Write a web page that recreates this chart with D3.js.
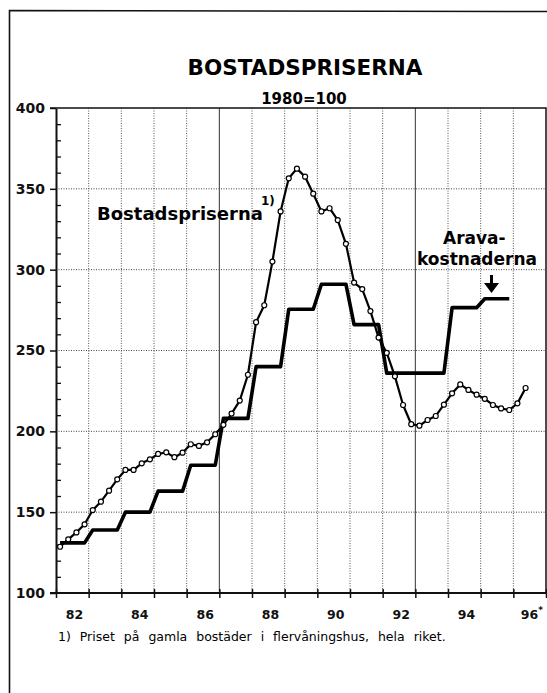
<!DOCTYPE html>
<html>
<head>
<meta charset="utf-8">
<script src="https://cdn.jsdelivr.net/npm/d3@7"></script>
<style>
body { margin: 0; background: #fff; }
svg { display: block; font-family: "DejaVu Sans", sans-serif; }
</style>
</head>
<body>
<svg width="547" height="693"></svg>
<script>
// Bostadspriserna 1), kvartalsvis fr.o.m. 1982:1 (1980=100)
var priceStart = 1982;
var priceValues = [128.6, 133.2, 137.5, 142.5, 151.3, 156.5, 163.3, 170.3,
                   176.1, 176.1, 180.2, 182.7, 186, 187, 184, 186.8,
                   192, 191, 193.2, 198.2, 204, 211, 219, 235,
                   267.5, 278, 305, 336, 356.5, 362.5, 357.5, 347,
                   336, 338, 330.7, 316, 292, 288, 274.4, 258,
                   248.5, 234, 216.3, 204.4, 203.5, 207, 209.5, 216.5,
                   223.5, 229, 225.6, 222.7, 220.1, 216.3, 214.2, 213.2,
                   217.3, 226.8];

// Aravakostnaderna, årsvärden
var aravaYears = [1982, 1983, 1984, 1985, 1986, 1987, 1988, 1989, 1990, 1991, 1992, 1993, 1994, 1995];
var aravaValues = [131, 139, 150, 163, 179, 208, 240, 275.5, 291, 266, 236, 236, 276.5, 282];

var gridYears = d3.range(1982, 1998);
var solidYears = [1987, 1993];
var labelYears = [1982, 1984, 1986, 1988, 1990, 1992, 1994, 1996];
var yMajor = [100, 150, 200, 250, 300, 350, 400];
var yMinor = d3.range(110, 400, 10).filter(function(d){ return d % 50 != 0; });

var svg = d3.select('svg');
var pLeft = 56, pRight = 546, pTop = 108, pBottom = 593;

var x = d3.scaleLinear().domain([1982, 1997]).range([pLeft, pRight]);
var y = d3.scaleLinear().domain([100, 400]).range([pBottom, pTop]);
// year labels sit a bit right of the middle of each year
var xLabel = d3.scaleLinear().domain([1982, 1997]).range([pLeft + 0.55 * 32.67, pRight + 0.55 * 32.67]);

// outer frame
svg.append('path')
   .attr('d', 'M9.5,693 L9.5,10.5 L547,11.5')
   .attr('fill', 'none').attr('stroke', '#111').attr('stroke-width', 1.6);

// titles
svg.append('text').attr('x', 305).attr('y', 75)
   .attr('text-anchor', 'middle').attr('font-weight', 'bold').attr('font-size', 21.5)
   .text('BOSTADSPRISERNA');
svg.append('text').attr('x', 304).attr('y', 103.5)
   .attr('text-anchor', 'middle').attr('font-weight', 'bold').attr('font-size', 15)
   .text('1980=100');

// grid
svg.append('g').selectAll('line')
   .data(yMajor.filter(function(d){ return d > 100 && d < 400; }))
   .enter().append('line')
   .attr('x1', pLeft).attr('x2', pRight)
   .attr('y1', function(d){ return y(d); }).attr('y2', function(d){ return y(d); })
   .attr('stroke', '#444').attr('stroke-width', 1).attr('stroke-dasharray', '1,1.5');

svg.append('g').selectAll('line')
   .data(gridYears.filter(function(d){ return d > 1982 && d < 1997; }))
   .enter().append('line')
   .attr('x1', function(d){ return x(d); }).attr('x2', function(d){ return x(d); })
   .attr('y1', pTop).attr('y2', pBottom)
   .attr('stroke', function(d){ return solidYears.indexOf(d) >= 0 ? '#333' : '#555'; })
   .attr('stroke-width', 1)
   .attr('stroke-dasharray', function(d){ return solidYears.indexOf(d) >= 0 ? null : '1,1.5'; });

// top and right border of the plot
svg.append('path')
   .attr('d', 'M' + (pLeft - 6) + ',' + pTop + ' L' + pRight + ',' + pTop + ' L' + pRight + ',' + pBottom)
   .attr('fill', 'none').attr('stroke', '#111').attr('stroke-width', 1.5);

// y axis
var yAxis = svg.append('g')
   .attr('transform', 'translate(' + pLeft + ',0)')
   .call(d3.axisLeft(y).tickValues(yMajor).tickSize(6).tickSizeOuter(0).tickPadding(5));
yAxis.select('.domain').attr('stroke', '#111').attr('stroke-width', 2);
yAxis.selectAll('.tick line').attr('stroke', '#111').attr('stroke-width', 1.5);
yAxis.selectAll('text')
   .attr('font-family', 'DejaVu Sans').attr('font-weight', 'bold').attr('font-size', 14).attr('fill', '#111');

svg.append('g')
   .attr('transform', 'translate(' + pLeft + ',0)')
   .call(d3.axisRight(y).tickValues(yMinor).tickSize(5).tickSizeOuter(0).tickFormat(''))
   .call(function(g){ g.select('.domain').remove(); })
   .selectAll('.tick line').attr('stroke', '#111').attr('stroke-width', 1.3);

// x axis
var xAxis = svg.append('g')
   .attr('transform', 'translate(0,' + pBottom + ')')
   .call(d3.axisBottom(x).tickValues(gridYears).tickSize(5).tickSizeOuter(0).tickFormat(''));
xAxis.select('.domain').attr('d', 'M' + (pLeft - 6) + ',0H' + pRight).attr('stroke', '#111').attr('stroke-width', 2);
xAxis.selectAll('.tick line').attr('y1', -4).attr('stroke', '#111').attr('stroke-width', 1.5);

var xLab = svg.append('g')
   .attr('transform', 'translate(0,' + pBottom + ')')
   .call(d3.axisBottom(xLabel).tickValues(labelYears).tickSize(0).tickPadding(17)
         .tickFormat(function(d){ return String(d).slice(2); }));
xLab.select('.domain').remove();
xLab.selectAll('text')
   .attr('font-family', 'DejaVu Sans').attr('font-weight', 'bold').attr('font-size', 12.5).attr('fill', '#111');
xLab.selectAll('.tick').filter(function(d){ return d == 1996; }).select('text')
   .append('tspan').attr('font-size', 9).attr('dy', -6).text('*');

// Aravakostnaderna, step line
var aravaPts = [];
aravaYears.forEach(function(yr, i){
    aravaPts.push([yr + 0.125, aravaValues[i]]);
    aravaPts.push([yr + 0.875, aravaValues[i]]);
});
var line = d3.line()
    .x(function(d){ return x(d[0]); })
    .y(function(d){ return y(d[1]); });

svg.append('path')
   .datum(aravaPts)
   .attr('d', line)
   .attr('fill', 'none').attr('stroke', '#000').attr('stroke-width', 3.6)
   .attr('stroke-linejoin', 'round');

// Bostadspriserna, line with open circles
var pricePts = priceValues.map(function(v, i){ return [priceStart + (i + 0.5) / 4, v]; });
svg.append('path')
   .datum(pricePts)
   .attr('d', line)
   .attr('fill', 'none').attr('stroke', '#000').attr('stroke-width', 2.2)
   .attr('stroke-linejoin', 'round');
svg.append('g').selectAll('circle')
   .data(pricePts)
   .enter().append('circle')
   .attr('cx', function(d){ return x(d[0]); })
   .attr('cy', function(d){ return y(d[1]); })
   .attr('r', 2.5)
   .attr('fill', '#fff').attr('stroke', '#000').attr('stroke-width', 1.2);

// labels in the plot
svg.append('text').attr('x', 97).attr('y', 220)
   .attr('font-weight', 'bold').attr('font-size', 18).text('Bostadspriserna');
svg.append('text').attr('x', 261).attr('y', 205)
   .attr('font-weight', 'bold').attr('font-size', 12).text('1)');
svg.append('text').attr('x', 443).attr('y', 244)
   .attr('font-weight', 'bold').attr('font-size', 17).text('Arava-');
svg.append('text').attr('x', 417).attr('y', 265)
   .attr('font-weight', 'bold').attr('font-size', 17).text('kostnaderna');

// arrow
svg.append('line').attr('x1', 491.5).attr('x2', 491.5).attr('y1', 275).attr('y2', 285)
   .attr('stroke', '#000').attr('stroke-width', 3);
svg.append('path').attr('d', 'M484,283 L499,283 L491.5,293 Z').attr('fill', '#000');

// footnote
svg.append('text').attr('x', 58).attr('y', 641)
   .attr('font-size', 12.5).attr('word-spacing', 5)
   .text('1) Priset på gamla bostäder i flervåningshus, hela riket.');
</script>
</body>
</html>
